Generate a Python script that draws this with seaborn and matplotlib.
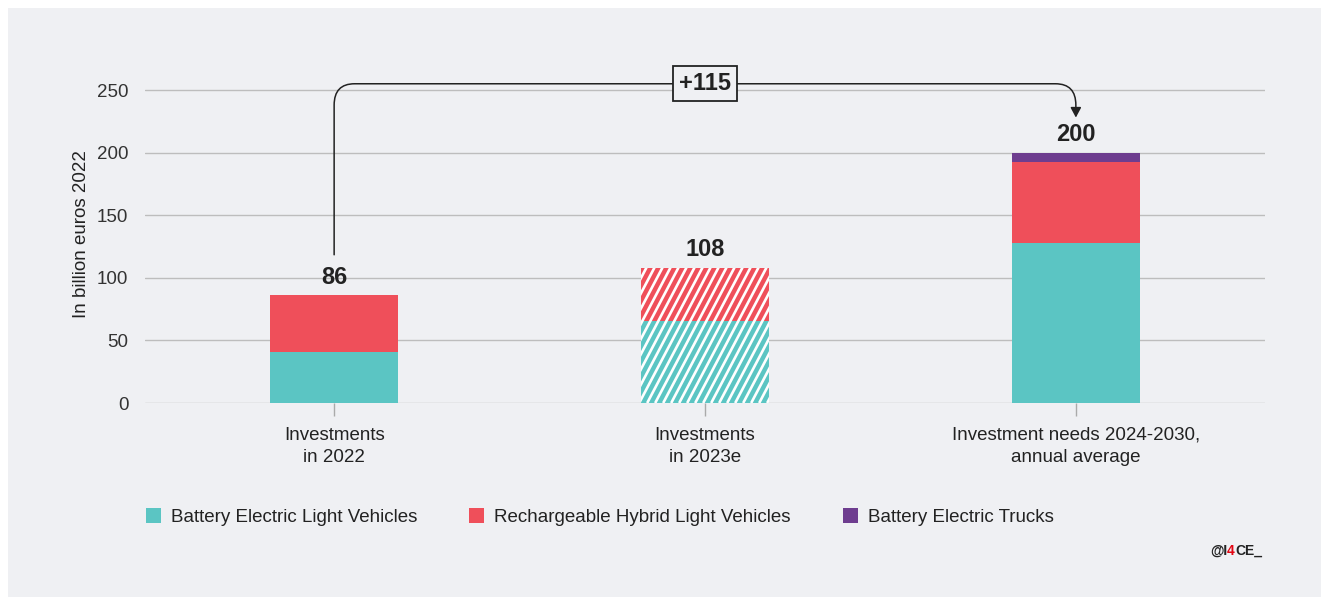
import matplotlib
matplotlib.use("Agg")
import matplotlib.pyplot as plt
import seaborn as sns
import pandas as pd
import numpy as np
from matplotlib.patches import Patch, Rectangle, FancyArrowPatch
from matplotlib.path import Path

# ---- data ----
categories = ["Investments\nin 2022", "Investments\nin 2023e", "Investment needs 2024-2030,\nannual average"]
bev_light = [41, 65.5, 128]
phev_light = [45, 42, 64.5]
bev_trucks = [0.4, 0.7, 7.5]
totals_label = ["86", "108", "200"]
difference_label = "+115"
series_names = ["Battery Electric Light Vehicles", "Rechargeable Hybrid Light Vehicles", "Battery Electric Trucks"]
colors = ["#5bc5c3", "#ef4f5a", "#6e3d8f"]
yticks = [0, 50, 100, 150, 200, 250]
estimated_index = 1

BG = "#eff0f3"
TXT = "#222222"
FS = 13.5
sns.set_theme(style="white")
plt.rcParams["font.family"] = ["Liberation Sans", "DejaVu Sans"]

fig = plt.figure(figsize=(13.29, 6.05), dpi=100, facecolor="white")
fig.patches.append(Rectangle((8 / 1329, 8 / 605), 1313 / 1329, 589 / 605,
                             transform=fig.transFigure, facecolor=BG, edgecolor="none", zorder=-10))
ax = fig.add_axes([145 / 1329, 202 / 605, 1120 / 1329, 0.5587])
ax.set_facecolor(BG)

df = pd.DataFrame({"cat": categories, "bev": bev_light, "phev": phev_light, "truck": bev_trucks})
df["c1"] = df["bev"]
df["c2"] = df["bev"] + df["phev"]
df["c3"] = df["c2"] + df["truck"]

width = 0.345
for col, colr in zip(["c3", "c2", "c1"], [colors[2], colors[1], colors[0]]):
    sns.barplot(data=df, x="cat", y=col, color=colr, width=width, ax=ax,
                saturation=1, linewidth=0, zorder=3, order=categories)

ax.set_xlim(-0.51, 2.51)
ax.set_ylim(0, 270)

# steep white stripes on the estimated (2023e) bar
full_patch = None
for p in ax.patches:
    cx = p.get_x() + p.get_width() / 2
    if abs(cx - estimated_index) < 0.1:
        if full_patch is None or p.get_height() > full_patch.get_height():
            full_patch = p
o = ax.transData.transform((0, 0))
ppx = ax.transData.transform((1, 0))[0] - o[0]
ppy = ax.transData.transform((0, 1))[1] - o[1]
slope_px = 1.9          # stripe steepness in pixels (dy/dx)
spacing_px = 8.0        # horizontal spacing
x_l, x_r = full_patch.get_x(), full_patch.get_x() + full_patch.get_width()
h = full_patch.get_height()
run = h * ppy / slope_px / ppx
for x0 in np.arange(x_l - run - 0.05, x_r + 0.05, spacing_px / ppx):
    ln, = ax.plot([x0, x0 + run], [0, h], color="white", linewidth=1.9,
                  solid_capstyle="butt", zorder=4)
    ln.set_clip_path(full_patch)

ax.set_yticks(yticks)
ax.set_yticklabels([str(v) for v in yticks], fontsize=FS, color="#333333")
ax.tick_params(axis="y", length=0, pad=12)
ax.tick_params(axis="x", length=9, width=1, color="#aaaaaa", labelsize=FS,
               labelcolor=TXT, pad=8, direction="out", bottom=True)
for t in ax.get_xticklabels():
    t.set_linespacing(1.4)
ax.set_xlabel("")
ax.set_ylabel("In billion euros 2022", fontsize=FS, color=TXT, labelpad=5)
for s in ax.spines.values():
    s.set_visible(False)
ax.grid(axis="y", color="#bdbdbd", linewidth=1, zorder=0)
ax.set_axisbelow(True)

# value labels
for i, (tot, lab) in enumerate(zip(df["c3"], totals_label)):
    ax.text(i, tot + 5, lab, ha="center", va="bottom", fontsize=17, fontweight="bold",
            color=TXT, zorder=5)

# connector arrow
y_start = df["c3"][0] + 32
y_top = 255
y_end = df["c3"][2] + 28
rx, ry = 0.055, 17
verts = [(0, y_start), (0, y_top - ry), (0, y_top), (rx, y_top),
         (2 - rx, y_top), (2, y_top), (2, y_top - ry), (2, y_end)]
codes = [Path.MOVETO, Path.LINETO, Path.CURVE3, Path.CURVE3,
         Path.LINETO, Path.CURVE3, Path.CURVE3, Path.LINETO]
arr = FancyArrowPatch(path=Path(verts, codes), arrowstyle="-|>,head_length=6,head_width=3.2",
                      color=TXT, linewidth=1.1, clip_on=False, zorder=6)
ax.add_patch(arr)
ax.text(1, y_top, difference_label, ha="center", va="center", fontsize=17, fontweight="bold",
        color=TXT, zorder=7, clip_on=False,
        bbox=dict(boxstyle="square,pad=0.25", facecolor=BG, edgecolor=TXT, linewidth=1.3))

# legend
handles = [Patch(facecolor=c, edgecolor="none") for c in colors]
fig.legend(handles, series_names, loc="center left", bbox_to_anchor=(129 / 1329, 1 - 517 / 605),
           ncol=3, frameon=False, fontsize=FS, handlelength=0.8, handleheight=0.8,
           handletextpad=0.55, columnspacing=2.75, labelcolor=TXT)

# watermark
t1 = fig.text(1210 / 1329, 1 - 551 / 605, "@I", fontsize=10, fontweight="bold",
              color=TXT, ha="left", va="center")
a2 = ax.annotate("4", xy=(1, 0), xycoords=t1, va="bottom", ha="left", fontsize=10,
                 fontweight="bold", color="#e30613", annotation_clip=False)
a3 = ax.annotate("CE_", xy=(1, 0), xycoords=a2, va="bottom", ha="left", fontsize=10,
                 fontweight="bold", color=TXT, annotation_clip=False)

fig.savefig("out.png", dpi=100, facecolor="white")
